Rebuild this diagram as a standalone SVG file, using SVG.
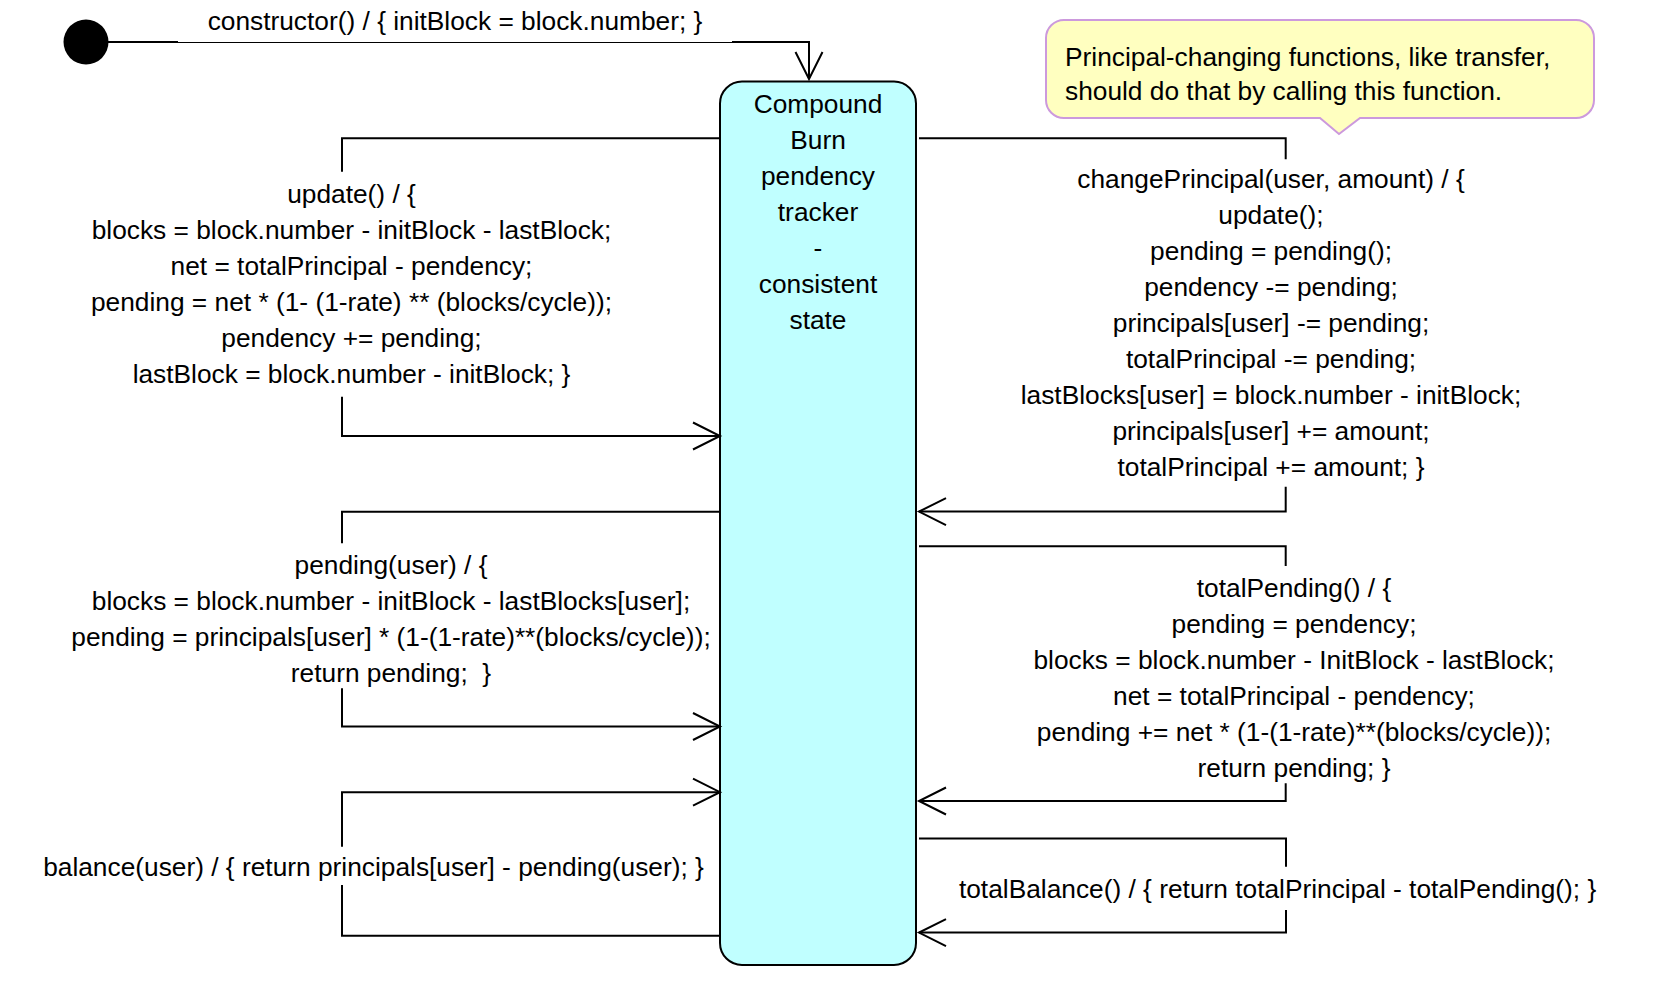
<svg xmlns="http://www.w3.org/2000/svg" width="1660" height="981" viewBox="0 0 1660 981">
  <style>
    .lbl { font-family: "Liberation Sans", Arial, sans-serif; font-size: 26.3px; fill: #000; text-anchor: middle; }
    .note-txt { font-family: "Liberation Sans", Arial, sans-serif; font-size: 26.3px; fill: #000; }
    .conn { fill: none; stroke: #000; stroke-width: 2; }
    .state { fill: #C0FFFF; stroke: #000; stroke-width: 2; }
    .note { fill: #FFFFC0; stroke: #CC99DD; stroke-width: 2; }
  </style>
  <defs>
    <marker id="open-arrow" markerUnits="userSpaceOnUse" viewBox="-30 -16 32 32" refX="0" refY="0" markerWidth="32" markerHeight="32" orient="auto" overflow="visible">
      <path d="M-27,-13.5 L0,0 L-27,13.5" fill="none" stroke="#000" stroke-width="2"/>
    </marker>
  </defs>
  <rect width="1660" height="981" fill="#fff"/>

  <!-- initial pseudo-state -->
  <g id="initial">
    <circle cx="86" cy="42" r="22.5" fill="#000"/>
  </g>

  <!-- main state -->
  <g id="state-tracker">
    <rect class="state" x="720" y="81.5" width="196" height="883.5" rx="22" ry="22"/>
    <text class="lbl" x="818" y="112.7">Compound</text>
    <text class="lbl" x="818" y="148.7">Burn</text>
    <text class="lbl" x="818" y="184.7">pendency</text>
    <text class="lbl" x="818" y="220.7">tracker</text>
    <text class="lbl" x="818" y="256.7">-</text>
    <text class="lbl" x="818" y="292.7">consistent</text>
    <text class="lbl" x="818" y="328.7">state</text>
  </g>

  <!-- comment note -->
  <g id="note">
    <path class="note" d="M1064,20 H1576 A18,18 0 0 1 1594,38 V100 A18,18 0 0 1 1576,118 H1360 L1339,134 L1320,118 H1064 A18,18 0 0 1 1046,100 V38 A18,18 0 0 1 1064,20 Z"/>
    <text class="note-txt" x="1065" y="66">Principal-changing functions, like transfer,</text>
    <text class="note-txt" x="1065" y="100">should do that by calling this function.</text>
  </g>

  <!-- transitions -->
  <g id="connectors">
    <path id="t-constructor" class="conn" d="M108,42 H809 V79" marker-end="url(#open-arrow)"/>
    <path id="t-update" class="conn" d="M720,138.3 H342 V171.7 M342,396.7 V436 H720" marker-end="url(#open-arrow)"/>
    <path id="t-pending" class="conn" d="M720,511.7 H342 V543.3 M342,688.3 V726.5 H720" marker-end="url(#open-arrow)"/>
    <path id="t-balance" class="conn" d="M720,935.8 H342 V885 M342,846.7 V792.2 H720" marker-end="url(#open-arrow)"/>
    <path id="t-change" class="conn" d="M919,138.3 H1285.7 V159.3 M1285.7,486.7 V511.6 H919" marker-end="url(#open-arrow)"/>
    <path id="t-totalpending" class="conn" d="M919,546.2 H1285.7 V566 M1285.7,783.3 V801 H919" marker-end="url(#open-arrow)"/>
    <path id="t-totalbalance" class="conn" d="M919,838.4 H1286 V866.7 M1286,910 V932.6 H919" marker-end="url(#open-arrow)"/>
  </g>

  <!-- transition labels -->
  <g id="label-constructor">
    <rect x="178" y="8" width="554" height="34" fill="#fff"/>
    <text class="lbl" x="455" y="30">constructor() / { initBlock = block.number; }</text>
  </g>
  <g id="label-update">
    <text class="lbl" x="351.5" y="203.3">update() / {</text>
    <text class="lbl" x="351.5" y="239.3">blocks = block.number - initBlock - lastBlock;</text>
    <text class="lbl" x="351.5" y="275.3">net = totalPrincipal - pendency;</text>
    <text class="lbl" x="351.5" y="311.3">pending = net * (1- (1-rate) ** (blocks/cycle));</text>
    <text class="lbl" x="351.5" y="347.3">pendency += pending;</text>
    <text class="lbl" x="351.5" y="383.3">lastBlock = block.number - initBlock; }</text>
  </g>
  <g id="label-pending">
    <text class="lbl" x="391" y="574">pending(user) / {</text>
    <text class="lbl" x="391" y="610">blocks = block.number - initBlock - lastBlocks[user];</text>
    <text class="lbl" x="391" y="646">pending = principals[user] * (1-(1-rate)**(blocks/cycle));</text>
    <text class="lbl" x="391" y="682" xml:space="preserve">return pending;  }</text>
  </g>
  <g id="label-balance">
    <text class="lbl" x="373.5" y="875.5">balance(user) / { return principals[user] - pending(user); }</text>
  </g>
  <g id="label-change">
    <text class="lbl" x="1271" y="188.3">changePrincipal(user, amount) / {</text>
    <text class="lbl" x="1271" y="224.3">update();</text>
    <text class="lbl" x="1271" y="260.3">pending = pending();</text>
    <text class="lbl" x="1271" y="296.3">pendency -= pending;</text>
    <text class="lbl" x="1271" y="332.3">principals[user] -= pending;</text>
    <text class="lbl" x="1271" y="368.3">totalPrincipal -= pending;</text>
    <text class="lbl" x="1271" y="404.3">lastBlocks[user] = block.number - initBlock;</text>
    <text class="lbl" x="1271" y="440.3">principals[user] += amount;</text>
    <text class="lbl" x="1271" y="476.3">totalPrincipal += amount; }</text>
  </g>
  <g id="label-totalpending">
    <text class="lbl" x="1294" y="596.5">totalPending() / {</text>
    <text class="lbl" x="1294" y="632.5">pending = pendency;</text>
    <text class="lbl" x="1294" y="668.5">blocks = block.number - InitBlock - lastBlock;</text>
    <text class="lbl" x="1294" y="704.5">net = totalPrincipal - pendency;</text>
    <text class="lbl" x="1294" y="740.5">pending += net * (1-(1-rate)**(blocks/cycle));</text>
    <text class="lbl" x="1294" y="776.5">return pending; }</text>
  </g>
  <g id="label-totalbalance">
    <text class="lbl" x="1277.6" y="897.5">totalBalance() / { return totalPrincipal - totalPending(); }</text>
  </g>
</svg>
